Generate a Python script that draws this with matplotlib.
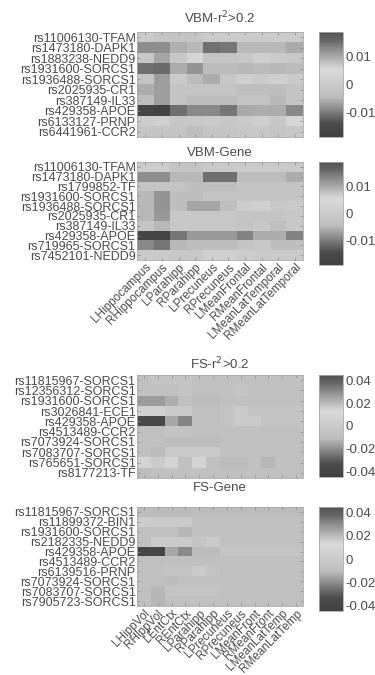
import numpy as np
import matplotlib
matplotlib.use("Agg")
import matplotlib.pyplot as plt
from matplotlib.colors import ListedColormap

plt.rcParams['font.family'] = ['Liberation Sans', 'DejaVu Sans']

# --- row / column labels ---
vbm_r2_snps = ["rs11006130-TFAM", "rs1473180-DAPK1", "rs1883238-NEDD9", "rs1931600-SORCS1",
               "rs1936488-SORCS1", "rs2025935-CR1", "rs387149-IL33", "rs429358-APOE",
               "rs6133127-PRNP", "rs6441961-CCR2"]
vbm_gene_snps = ["rs11006130-TFAM", "rs1473180-DAPK1", "rs1799852-TF", "rs1931600-SORCS1",
                 "rs1936488-SORCS1", "rs2025935-CR1", "rs387149-IL33", "rs429358-APOE",
                 "rs719965-SORCS1", "rs7452101-NEDD9"]
fs_r2_snps = ["rs11815967-SORCS1", "rs12356312-SORCS1", "rs1931600-SORCS1", "rs3026841-ECE1",
              "rs429358-APOE", "rs4513489-CCR2", "rs7073924-SORCS1", "rs7083707-SORCS1",
              "rs765651-SORCS1", "rs8177213-TF"]
fs_gene_snps = ["rs11815967-SORCS1", "rs11899372-BIN1", "rs1931600-SORCS1", "rs2182335-NEDD9",
                "rs429358-APOE", "rs4513489-CCR2", "rs6139516-PRNP", "rs7073924-SORCS1",
                "rs7083707-SORCS1", "rs7905723-SORCS1"]
vbm_rois = ["LHippocampus", "RHippocampus", "LParahipp", "RParahipp", "LPrecuneus",
            "RPrecuneus", "LMeanFrontal", "RMeanFrontal", "LMeanLatTemporal", "RMeanLatTemporal"]
fs_rois = ["LHippVol", "RHippVol", "LEntCtx", "REntCtx", "LParahipp", "RParahipp",
           "LPrecuneus", "RPrecuneus", "LMeanFront", "RMeanFront", "LMeanLatTemp", "RMeanLatTemp"]

# --- values ---
vbm_r2 = [
    [0.000, -0.002, -0.002, -0.002, 0.000, 0.000, 0.000, 0.000, 0.001, 0.001],
    [-0.0085, -0.0085, -0.0055, -0.005, -0.011, -0.0105, -0.005, -0.005, -0.005, -0.006],
    [-0.001, -0.0065, -0.001, 0.004, -0.002, -0.002, -0.001, 0.002, 0.000, -0.001],
    [-0.011, -0.0115, -0.0058, -0.008, -0.0045, -0.0045, -0.005, -0.0045, -0.005, -0.0045],
    [-0.002, -0.007, 0.000, -0.0045, -0.0058, -0.001, 0.002, 0.000, 0.002, 0.000],
    [-0.0058, -0.007, -0.002, -0.002, -0.002, -0.002, -0.004, -0.004, -0.004, -0.002],
    [-0.004, -0.007, -0.002, -0.004, -0.004, -0.004, -0.002, -0.002, -0.005, -0.002],
    [-0.017, -0.018, -0.011, -0.009, -0.009, -0.0105, -0.0062, -0.0058, -0.0058, -0.009],
    [0.001, 0.002, -0.001, -0.001, 0.000, -0.001, 0.000, 0.002, -0.001, 0.004],
    [-0.002, -0.002, -0.002, -0.004, -0.002, -0.002, -0.001, -0.001, -0.002, -0.001],
]
vbm_gene = [
    [0.001, 0.001, -0.002, -0.002, 0.000, 0.000, 0.000, 0.000, 0.000, 0.000],
    [-0.0085, -0.0085, -0.005, -0.005, -0.011, -0.011, -0.0045, -0.0045, -0.0045, -0.0058],
    [-0.002, -0.002, -0.002, -0.004, -0.004, -0.004, -0.002, -0.002, -0.002, -0.002],
    [-0.005, -0.008, -0.004, -0.004, -0.002, -0.002, -0.002, -0.002, -0.002, -0.002],
    [-0.005, -0.008, -0.004, -0.0065, -0.0065, -0.004, 0.001, 0.002, -0.001, 0.000],
    [-0.005, -0.0075, -0.001, -0.001, -0.001, -0.001, -0.002, -0.002, -0.002, -0.001],
    [-0.002, -0.005, -0.001, -0.001, -0.001, -0.001, -0.002, -0.001, -0.004, -0.001],
    [-0.017, -0.0175, -0.0105, -0.0075, -0.0075, -0.0075, -0.0095, -0.0058, -0.0058, -0.0095],
    [-0.009, -0.0105, -0.005, -0.004, -0.004, -0.004, -0.002, -0.001, -0.004, -0.004],
    [0.000, 0.000, -0.001, -0.001, 0.002, 0.002, 0.001, 0.000, 0.000, 0.000],
]
fs_r2 = [
    [-0.008, -0.0045, -0.0045, -0.0045, -0.008, -0.008, -0.008, -0.008, -0.008, -0.008, -0.008, -0.008],
    [-0.008, -0.008, -0.008, -0.0045, -0.008, -0.008, -0.008, -0.0045, -0.008, -0.008, -0.008, -0.008],
    [-0.0175, -0.0175, -0.0135, -0.008, -0.011, -0.011, -0.008, -0.008, -0.008, -0.008, -0.008, -0.008],
    [0.005, 0.005, 0.000, 0.000, -0.008, -0.008, -0.0045, 0.000, -0.0045, -0.0045, -0.0045, -0.0045],
    [-0.037, -0.037, -0.015, -0.022, -0.008, -0.008, -0.0045, 0.000, 0.000, -0.0045, -0.0045, -0.0045],
    [-0.008, -0.008, -0.0045, -0.0045, -0.008, -0.008, -0.008, -0.008, -0.008, -0.008, -0.008, -0.008],
    [-0.008, -0.008, -0.011, -0.011, -0.011, -0.011, -0.008, -0.008, -0.008, -0.008, -0.008, -0.008],
    [-0.008, -0.011, 0.000, 0.000, 0.000, 0.000, -0.008, -0.008, -0.008, -0.008, -0.008, -0.008],
    [0.008, 0.000, 0.008, -0.008, 0.008, -0.008, -0.011, -0.011, -0.008, -0.012, -0.008, -0.008],
    [-0.011, -0.008, -0.008, -0.008, -0.008, -0.008, -0.008, -0.008, -0.008, -0.008, -0.008, -0.008],
]
fs_gene = [
    [-0.011, -0.011, -0.011, -0.011, -0.011, -0.011, -0.011, -0.011, -0.011, -0.011, -0.011, -0.011],
    [0.002, 0.000, 0.000, 0.000, -0.008, -0.008, -0.008, -0.008, -0.008, -0.008, -0.008, -0.008],
    [-0.008, -0.008, -0.008, -0.012, -0.008, -0.008, -0.008, -0.008, -0.008, -0.008, -0.008, -0.008],
    [-0.008, 0.000, 0.000, 0.000, -0.0045, 0.000, -0.008, -0.008, -0.008, -0.008, -0.008, -0.008],
    [-0.0395, -0.0395, -0.015, -0.021, -0.011, -0.011, -0.0045, -0.0045, -0.0045, -0.0045, -0.0045, -0.0045],
    [-0.008, -0.008, -0.008, -0.008, -0.008, -0.008, -0.008, -0.008, -0.008, -0.008, -0.008, -0.008],
    [-0.008, -0.008, -0.0045, -0.0045, 0.000, -0.0045, -0.008, -0.008, -0.008, -0.008, -0.008, -0.008],
    [-0.008, -0.008, -0.011, -0.008, -0.008, -0.008, -0.008, -0.008, -0.008, -0.008, -0.008, -0.008],
    [-0.008, -0.012, -0.0045, -0.0045, -0.0045, -0.0045, -0.008, -0.008, -0.008, -0.008, -0.008, -0.008],
    [-0.008, -0.012, -0.008, -0.008, -0.008, -0.008, -0.008, -0.008, -0.008, -0.008, -0.008, -0.008],
]

vbm_lim = 0.019
fs_lim = 0.045

# jet printed in grayscale
jet = plt.get_cmap('jet')(np.linspace(0, 1, 256))[:, :3]
lum = jet @ np.array([0.299, 0.587, 0.114])
g = 0.21 + 0.74 * lum
gray_jet = ListedColormap(np.column_stack([g, g, g]))

TXT = '#4a4a4a'
FS = 9

fig = plt.figure(figsize=(3.75, 6.75), dpi=100)
W, H = 375.0, 675.0


def box(x0, y0, x1, y1):
    return [x0 / W, 1 - y1 / H, (x1 - x0) / W, (y1 - y0) / H]


panels = [
    ("VBM-r$^2$>0.2", vbm_r2, vbm_r2_snps, None, vbm_lim, [0.01, 0, -0.01],
     (137, 32, 303, 137), (319, 32, 343, 137), 18),
    ("VBM-Gene", vbm_gene, vbm_gene_snps, vbm_rois, vbm_lim, [0.01, 0, -0.01],
     (137, 162, 303, 260), (319, 162, 343, 265), 153),
    ("FS-r$^2$>0.2", fs_r2, fs_r2_snps, None, fs_lim, [0.04, 0.02, 0, -0.02, -0.04],
     (137, 375, 303, 478), (319, 375, 343, 477), 364),
    ("FS-Gene", fs_gene, fs_gene_snps, fs_rois, fs_lim, [0.04, 0.02, 0, -0.02, -0.04],
     (137, 507, 303, 606), (319, 507, 343, 611), 488),
]

for title, vals, snps, rois, lim, cticks, hb, cb, ty in panels:
    data = np.array(vals)
    ax = fig.add_axes(box(*hb))
    im = ax.imshow(data, cmap=gray_jet, vmin=-lim, vmax=lim, aspect='auto',
                   interpolation='nearest')
    ax.set_yticks(range(len(snps)))
    ax.set_yticklabels(snps, fontsize=FS, color=TXT)
    ax.set_xticks(range(data.shape[1]))
    if rois:
        ax.set_xticklabels(rois, fontsize=FS - 0.5, color=TXT, rotation=45, ha='right',
                           va='top', rotation_mode='anchor')
    else:
        ax.set_xticklabels([])
    ax.tick_params(axis='both', direction='in', length=2, width=0.5, color='#888888',
                   pad=1, right=True, top=True)
    for s in ax.spines.values():
        s.set_color('#aaaaaa')
        s.set_linewidth(0.6)
    fig.text((hb[0] + hb[2]) / 2 / W, 1 - ty / H, title, ha='center', va='center',
             fontsize=FS + 0.5, color=TXT)

    cax = fig.add_axes(box(*cb))
    bar = fig.colorbar(im, cax=cax, ticks=cticks)
    bar.ax.set_yticklabels([f"{t:g}" for t in cticks], fontsize=FS + 0.5, color=TXT)
    bar.ax.tick_params(length=0, pad=2)
    bar.outline.set_edgecolor('#aaaaaa')
    bar.outline.set_linewidth(0.6)

fig.savefig("out.png", dpi=100, facecolor='white')
